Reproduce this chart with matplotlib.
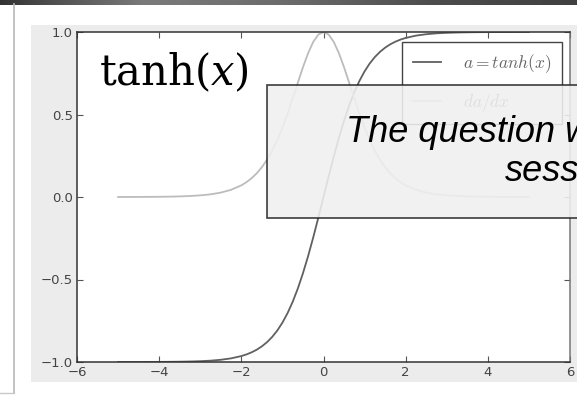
import numpy as np
import matplotlib
matplotlib.use("Agg")
import matplotlib.pyplot as plt
from matplotlib.patches import Rectangle
from matplotlib.lines import Line2D
from matplotlib.font_manager import FontProperties

# sampled curve values (finer steps around the middle)
x = [-5.0, -4.75, -4.5, -4.25, -4.0, -3.75, -3.5, -3.25, -3.0, -2.75, -2.5, -2.25,
     -2.0, -1.875, -1.75, -1.625, -1.5, -1.375, -1.25, -1.125, -1.0, -0.875,
     -0.75, -0.625, -0.5, -0.375, -0.25, -0.125, 0.0,
     0.125, 0.25, 0.375, 0.5, 0.625, 0.75, 0.875, 1.0, 1.125, 1.25, 1.375,
     1.5, 1.625, 1.75, 1.875, 2.0,
     2.25, 2.5, 2.75, 3.0, 3.25, 3.5, 3.75, 4.0, 4.25, 4.5, 4.75, 5.0]
a = [-0.9999, -0.9999, -0.9998, -0.9996, -0.9993, -0.9989, -0.9982, -0.9970,
     -0.9951, -0.9919, -0.9866, -0.9780,
     -0.9640, -0.9541, -0.9414, -0.9254, -0.9051, -0.8798, -0.8483, -0.8093,
     -0.7616, -0.7039, -0.6351, -0.5546, -0.4621, -0.3584, -0.2449, -0.1244, 0.0,
     0.1244, 0.2449, 0.3584, 0.4621, 0.5546, 0.6351, 0.7039, 0.7616, 0.8093,
     0.8483, 0.8798, 0.9051, 0.9254, 0.9414, 0.9541, 0.9640,
     0.9780, 0.9866, 0.9919, 0.9951, 0.9970, 0.9982, 0.9989, 0.9993, 0.9996,
     0.9998, 0.9999, 0.9999]
da = [0.0002, 0.0003, 0.0005, 0.0008, 0.0013, 0.0022, 0.0036, 0.0060, 0.0099,
      0.0161, 0.0266, 0.0435,
      0.0707, 0.0898, 0.1138, 0.1437, 0.1807, 0.2259, 0.2804, 0.3450, 0.4200,
      0.5045, 0.5966, 0.6924, 0.7864, 0.8716, 0.9400, 0.9845, 1.0,
      0.9845, 0.9400, 0.8716, 0.7864, 0.6924, 0.5966, 0.5045, 0.4200, 0.3450,
      0.2804, 0.2259, 0.1807, 0.1437, 0.1138, 0.0898, 0.0707,
      0.0435, 0.0266, 0.0161, 0.0099, 0.0060, 0.0036, 0.0022, 0.0013, 0.0008,
      0.0005, 0.0003, 0.0002]
labels = [r"$a = tanh(x)$", r"$da/dx$"]
xticks = [-6, -4, -2, 0, 2, 4, 6]
yticks = [-1.0, -0.5, 0.0, 0.5, 1.0]

W, H = 577, 395
fig = plt.figure(figsize=(W / 100, H / 100), dpi=100)
fig.patch.set_facecolor("white")


def fx(px):
    return px / W


def fy(py):
    return 1 - py / H


# window bar along the top
bar = fig.add_axes([0, fy(5), 1, 5 / H])
stops = np.interp(np.linspace(0, 1, 300), [0, 0.08, 0.25, 0.5, 0.75, 1],
                  [0.2, 0.3, 0.48, 0.42, 0.3, 0.25])
bar.imshow(stops[None, :], cmap="gray", vmin=0, vmax=1, aspect="auto")
bar.axis("off")

# left panel edge
fig.add_artist(Line2D([fx(13.5), fx(13.5)], [fy(4), fy(393)], color="#b8b8b8", lw=1.2,
                      transform=fig.transFigure))
fig.add_artist(Line2D([0, fx(13.5)], [fy(393), fy(393)], color="#c8c8c8", lw=1,
                      transform=fig.transFigure))

# plot background
fig.add_artist(Rectangle((fx(31), fy(382)), fx(W - 31), (382 - 25) / H,
                         facecolor="#ececec", edgecolor="none", transform=fig.transFigure,
                         zorder=-5))

ax = fig.add_axes([fx(77), fy(362), fx(570 - 77), (362 - 32) / H])
ax.plot(x, a, color="#606060", lw=1.3, label=labels[0])
ax.plot(x, da, color="#bcbcbc", lw=1.3, label=labels[1])
ax.set_xlim(-6, 6)
ax.set_ylim(-1, 1)
ax.set_xticks(xticks)
ax.set_yticks(yticks)
ax.tick_params(direction="in", length=4, width=0.8, top=True, right=True,
               labelsize=9.5, labelcolor="#444444", color="#555555", pad=3)
for s in ax.spines.values():
    s.set_color("#333333")
    s.set_linewidth(1.1)
ax.spines["right"].set_color("#777777")

leg = ax.legend(loc="upper right", bbox_to_anchor=(fx(562), fy(42)),
                bbox_transform=fig.transFigure, borderaxespad=0,
                prop=FontProperties(size=12.5, math_fontfamily="cm"),
                labelspacing=0.95, borderpad=0.6, handlelength=1.6, handletextpad=1.3,
                fancybox=False, framealpha=1)
leg.get_frame().set_edgecolor("#444444")
leg.get_frame().set_linewidth(1.0)
for t in leg.get_texts():
    t.set_color("#666666")

fig.text(fx(99), fy(85), r"$\mathrm{tanh}(x)$", fontsize=30, math_fontfamily="dejavuserif",
         va="baseline", ha="left", color="black")

# callout box over the upper right
fig.add_artist(Rectangle((fx(267), fy(218)), fx(W), (218 - 85) / H,
                         facecolor="#f0f0f0", edgecolor="#222222", lw=1.2, alpha=0.88,
                         transform=fig.transFigure, zorder=10))
fig.text(fx(346), fy(142), "The question w", fontsize=26, style="italic",
         family="Liberation Sans", va="baseline", ha="left", zorder=11)
fig.text(fx(505), fy(181), "sess", fontsize=26, style="italic",
         family="Liberation Sans", va="baseline", ha="left", zorder=11)

fig.savefig("out.png", dpi=100)
